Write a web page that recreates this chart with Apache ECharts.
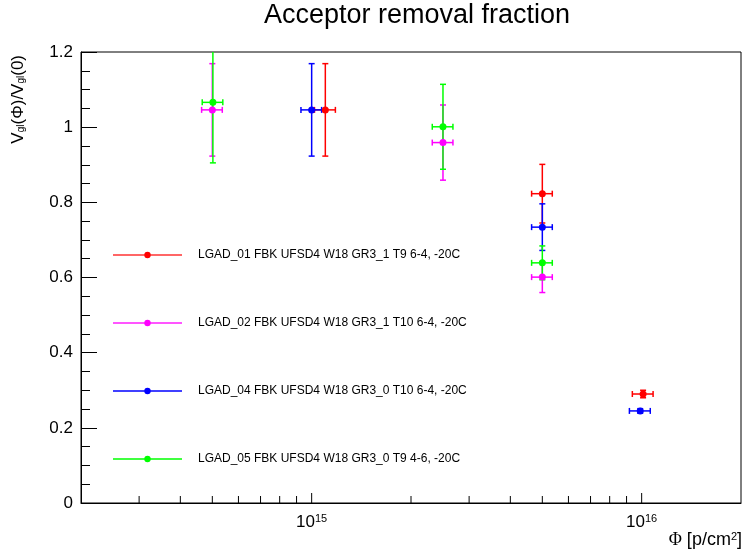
<!DOCTYPE html>
<html>
<head>
<meta charset="utf-8">
<script src="https://cdn.jsdelivr.net/npm/echarts@6/dist/echarts.min.js"></script>
<style>
  html, body { margin: 0; padding: 0; background: #fff; }
  #chart { width: 744px; height: 551px; }
</style>
</head>
<body>
<div id="chart"></div>
<script>
// fluence [p/cm2], gain-layer voltage ratio and their errors
const names = [
  'LGAD_01 FBK UFSD4 W18 GR3_1 T9 6-4, -20C',
  'LGAD_02 FBK UFSD4 W18 GR3_1 T10 6-4, -20C',
  'LGAD_04 FBK UFSD4 W18 GR3_0 T10 6-4, -20C',
  'LGAD_05 FBK UFSD4 W18 GR3_0 T9 4-6, -20C'
];
const colors = ['#ff0000', '#ff00ff', '#0000ff', '#00ff00'];

const lgad01X = [1.1e15, 5e15, 1.01e16];
const lgad01Y = [1.046, 0.823, 0.290];
const lgad01Xerr = [0.08e15, 0.36e15, 0.073e16];
const lgad01Yerr = [0.123, 0.078, 0.010];

const lgad02X = [5e14, 2.5e15, 5e15];
const lgad02Y = [1.046, 0.959, 0.601];
const lgad02Xerr = [0.36e14, 0.18e15, 0.36e15];
const lgad02Yerr = [0.123, 0.100, 0.041];

const lgad04X = [1e15, 5e15, 0.99e16];
const lgad04Y = [1.046, 0.734, 0.245];
const lgad04Xerr = [0.072e15, 0.36e15, 0.072e16];
const lgad04Yerr = [0.123, 0.062, 0.006];

const lgad05X = [5.02e14, 2.5e15, 5e15];
const lgad05Y = [1.066, 1.001, 0.639];
const lgad05Xerr = [0.36e14, 0.18e15, 0.36e15];
const lgad05Yerr = [0.161, 0.113, 0.045];

const xMajorTicks = [1e15, 1e16];
const xMinorTicks = [3e14, 4e14, 5e14, 6e14, 7e14, 8e14, 9e14,
  2e15, 3e15, 4e15, 5e15, 6e15, 7e15, 8e15, 9e15];

const sets = [
  [lgad01X, lgad01Y, lgad01Xerr, lgad01Yerr],
  [lgad02X, lgad02Y, lgad02Xerr, lgad02Yerr],
  [lgad04X, lgad04Y, lgad04Xerr, lgad04Yerr],
  [lgad05X, lgad05Y, lgad05Xerr, lgad05Yerr]
];

const FONT = 'Liberation Sans, Arial, Helvetica, sans-serif';

function errorBars(params, api) {
  const x = api.value(0), y = api.value(1), ex = api.value(2), ey = api.value(3);
  const l = api.coord([x - ex, y]), r = api.coord([x + ex, y]);
  const t = api.coord([x, y + ey]), b = api.coord([x, y - ey]);
  const style = { stroke: api.visual('color'), lineWidth: 1.5 };
  const cap = 3;
  return {
    type: 'group',
    children: [
      { type: 'line', shape: { x1: l[0], y1: l[1], x2: r[0], y2: r[1] }, style },
      { type: 'line', shape: { x1: l[0], y1: l[1] - cap, x2: l[0], y2: l[1] + cap }, style },
      { type: 'line', shape: { x1: r[0], y1: r[1] - cap, x2: r[0], y2: r[1] + cap }, style },
      { type: 'line', shape: { x1: t[0], y1: t[1], x2: b[0], y2: b[1] }, style },
      { type: 'line', shape: { x1: t[0] - cap, y1: t[1], x2: t[0] + cap, y2: t[1] }, style },
      { type: 'line', shape: { x1: b[0] - cap, y1: b[1], x2: b[0] + cap, y2: b[1] }, style }
    ]
  };
}

function tickMarks(len) {
  return function (params, api) {
    const p = api.coord([api.value(0), 0]);
    return {
      type: 'line',
      shape: { x1: p[0], y1: p[1], x2: p[0], y2: p[1] - len },
      style: { stroke: '#000', lineWidth: 1 }
    };
  };
}

const series = [];
sets.forEach((s, i) => {
  const [xs, ys, exs, eys] = s;
  series.push({
    name: names[i] + ' err',
    type: 'custom',
    clip: true,
    itemStyle: { color: colors[i] },
    renderItem: errorBars,
    encode: { x: 0, y: 1 },
    data: xs.map((x, k) => [x, ys[k], exs[k], eys[k]]),
    z: 2
  });
  series.push({
    name: names[i],
    type: 'line',
    symbol: 'circle',
    symbolSize: 7,
    showSymbol: true,
    itemStyle: { color: colors[i] },
    lineStyle: { opacity: 0 },
    data: xs.map((x, k) => [x, ys[k]]),
    z: 3
  });
});
series.push({
  type: 'custom', renderItem: tickMarks(10), encode: { x: 0, y: 1 },
  data: xMajorTicks.map(v => [v, 0]), silent: true, z: 1
});
series.push({
  type: 'custom', renderItem: tickMarks(7), encode: { x: 0, y: 1 },
  data: xMinorTicks.map(v => [v, 0]), silent: true, z: 1
});

const chart = echarts.init(document.getElementById('chart'));
chart.setOption({
  animation: false,
  backgroundColor: '#fff',
  textStyle: { fontFamily: FONT },
  title: {
    text: 'Acceptor removal fraction',
    left: 412, top: -3, textAlign: 'center',
    textStyle: { fontFamily: FONT, fontSize: 27, fontWeight: 'normal', color: '#000' }
  },
  grid: {
    left: 81, right: 2, top: 52, bottom: 48,
    show: true, borderColor: '#000', borderWidth: 1, backgroundColor: 'transparent'
  },
  legend: {
    orient: 'vertical',
    left: 107, top: 244,
    itemWidth: 69, itemHeight: 8,
    itemGap: 56,
    textStyle: { fontFamily: FONT, fontSize: 12, color: '#000', padding: [0, 0, 0, 11] },
    lineStyle: { opacity: 1, width: 2 },
    data: names.map((n, i) => ({
      name: n,
      lineStyle: { opacity: 1, width: i < 2 ? 2 : 1.5, color: i === 0 ? '#ff6666' : (i === 1 ? '#ff55ff' : colors[i]) }
    }))
  },
  xAxis: {
    type: 'log', logBase: 10,
    min: 2e14, max: 2e16,
    axisLine: { show: true, onZero: false, lineStyle: { color: '#000', width: 1 } },
    axisTick: { show: false },
    minorTick: { show: false },
    splitLine: { show: false },
    axisLabel: {
      margin: 10,
      color: '#000',
      fontFamily: FONT,
      fontSize: 17,
      formatter: function (v) {
        const e = Math.log10(v);
        if (Math.abs(e - Math.round(e)) > 1e-6) return '';
        return '10{sup|' + Math.round(e) + '}';
      },
      rich: {
        sup: { fontSize: 11, verticalAlign: 'top', padding: [0, 0, 8, 0], fontFamily: FONT, color: '#000' }
      }
    }
  },
  yAxis: {
    type: 'value',
    min: 0, max: 1.2, interval: 0.2,
    axisLine: { show: true, lineStyle: { color: '#000', width: 1 } },
    axisTick: { show: true, inside: true, length: 16, lineStyle: { color: '#000' } },
    minorTick: { show: true, splitNumber: 4, length: 9, lineStyle: { color: '#000' } },
    splitLine: { show: false },
    minorSplitLine: { show: false },
    axisLabel: { color: '#000', fontFamily: FONT, fontSize: 17, margin: 8 }
  },
  graphic: [
    {
      type: 'text',
      x: 18, y: 55,
      rotation: Math.PI / 2,
      style: {
        text: 'V{sub|gl}(Φ)/V{sub|gl}(0)',
        align: 'right', verticalAlign: 'middle',
        fontFamily: FONT, fontSize: 17, fill: '#000',
        rich: {
          sub: { fontSize: 10, fontFamily: FONT, fill: '#000', padding: [6, 0, 0, 0] }
        }
      }
    },
    {
      type: 'text',
      x: 742, y: 550,
      style: {
        text: '{phi|Φ} [p/cm{sup|2}]',
        align: 'right', verticalAlign: 'bottom',
        fontFamily: FONT, fontSize: 18, fill: '#000',
        rich: {
          phi: { fontFamily: 'Liberation Serif, DejaVu Serif, serif', fontSize: 18, fill: '#000' },
          sup: { fontSize: 11, fontFamily: FONT, fill: '#000', verticalAlign: 'top', padding: [0, 0, 8, 0] }
        }
      }
    }
  ],
  series: series
});
</script>
</body>
</html>
